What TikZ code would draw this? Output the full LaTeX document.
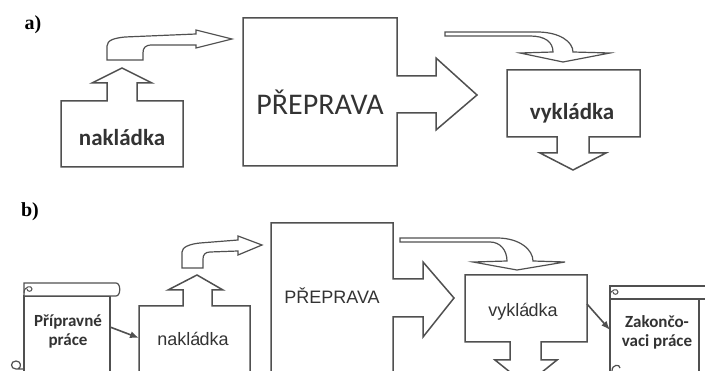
\documentclass[tikz,border=0pt]{standalone}
\usepackage{fontspec}
\setmainfont{Liberation Serif}
\newfontfamily\carlito{Carlito}
\newfontfamily\libsans{Liberation Sans}
\usetikzlibrary{arrows.meta}
\definecolor{ln}{HTML}{505050}
\definecolor{tx}{HTML}{333333}
\tikzset{
  shp/.style={draw=ln, line width=1.5pt, line join=miter, fill=white},
  thin shp/.style={draw=ln, line width=1.2pt, fill=white},
  conn/.style={draw=ln, line width=1.6pt, -{Latex[length=9pt,width=7pt]}},
  lbl/.style={text=black, font=\bfseries\fontsize{20}{20}\selectfont},
  bigA/.style={text=tx, font=\carlito\fontsize{30}{30}\selectfont},
  boxA/.style={text=tx, font=\carlito\bfseries\fontsize{23}{23}\selectfont},
  boxB/.style={text=tx, font=\libsans\fontsize{18}{18}\selectfont},
  scrl/.style={text=tx, font=\carlito\bfseries\fontsize{17}{19}\selectfont, align=center}
}
\begin{document}
\begin{tikzpicture}[x=1pt,y=-1pt]
\useasboundingbox (0,0) rectangle (705,371);
\fill[white] (0,0) rectangle (705,371);
\clip (0,0) rectangle (705,371);

% ---------- a) ----------
\node[lbl] (la) at (33,25) {a)};

% nakladka a
\path[shp] (61,167) -- (61,101) -- (107,101) -- (107,83) -- (92,83) -- (122,68) -- (152,83) -- (137,83) -- (137,101) -- (183,101) -- (183,167) -- cycle;
\node[boxA] (nakA) at (122,138) {nakládka};
% bent arrow a
\path[thin shp] (107,60) -- (107,46) .. controls (107,40) and (115,38) .. (125,37) -- (196,34) -- (196,30) -- (232,39) -- (196,48) -- (196,45) -- (152,45) .. controls (145,45) and (143,48) .. (143,53) -- (143,60) -- cycle;

% preprava a
\path[shp] (243,18) -- (397,18) -- (397,76) -- (436,76) -- (436,58) -- (477,95) -- (436,130) -- (436,113) -- (397,113) -- (397,166) -- (243,166) -- cycle;
\node[bigA] (prA) at (320,102) {PŘEPRAVA};

% curved arrow a
\path[thin shp] (445,32) -- (537,32) .. controls (560,32) and (573,42) .. (573,52) -- (610,53) -- (563,62) -- (520,53) -- (553,52) .. controls (553,42) and (545,36) .. (530,36) -- (445,36) -- cycle;

% vykladka a
\path[shp] (507,70) -- (640,70) -- (640,137) -- (589,137) -- (589,153) -- (606,153) -- (573,170) -- (540,153) -- (557,153) -- (557,137) -- (507,137) -- cycle;
\node[boxA] (vykA) at (572,113) {vykládka};

% ---------- b) ----------
\node[lbl] (lb) at (30,212) {b)};

% scroll left
\path[thin shp] (24,296) -- (24,380) -- (110,380) -- (110,296) -- cycle;
\path[thin shp] (24,283) -- (116,283) .. controls (121,283) and (121,296) .. (116,296) -- (24,296) -- cycle;
\draw[ln, line width=1pt] (24,293) .. controls (24,286) and (32,285) .. (32,289) .. controls (32,292) and (27,292) .. (27,289);
\draw[ln, line width=1.2pt] (24,369) -- (16,369) .. controls (10,369) and (10,361) .. (16,361) .. controls (21,361) and (22,367) .. (18,369);
\node[scrl] (prip) at (68,331) {Přípravné\\práce};

% nakladka b
\path[shp] (139,380) -- (139,306) -- (183,306) -- (183,290) -- (168,290) -- (197,275) -- (223,290) -- (212,290) -- (212,306) -- (250,306) -- (250,380) -- cycle;
\node[boxB] (nakB) at (193,339) {naklá\kern-1pt dka};
% bent arrow b
\path[thin shp] (182,268) -- (182,252) .. controls (182,247) and (190,244) .. (200,243) -- (238,240) -- (238,236) -- (262,245) -- (238,255) -- (238,251) -- (210,252) .. controls (205,252) and (203,255) .. (203,259) -- (203,268) -- cycle;

% preprava b
\path[shp] (271,380) -- (271,223) -- (393,223) -- (393,279) -- (423,279) -- (423,262) -- (454,298) -- (423,337) -- (423,317) -- (393,317) -- (393,380) -- cycle;
\node[boxB] (prB) at (332,296) {PŘEPRAVA};

% curved arrow b
\path[thin shp] (400,238) -- (497,238) .. controls (520,238) and (533,250) .. (533,261) -- (565,262) -- (517,270) -- (473,262) -- (507,261) .. controls (507,250) and (500,242) .. (490,242) -- (400,242) -- cycle;

% vykladka b
\path[shp] (465,275) -- (587,275) -- (587,342) -- (541,342) -- (541,360) -- (557,360) -- (526,385) -- (495,360) -- (510,360) -- (510,342) -- (465,342) -- cycle;
\node[boxB] (vykB) at (523,312) {vyklá\kern-1pt dka};

% scroll right
\path[thin shp] (610,299) -- (610,380) -- (699,380) -- (699,299) -- cycle;
\path[thin shp] (610,286) -- (712,286) -- (712,299) -- (610,299) -- cycle;
\draw[ln, line width=1pt] (610,296) .. controls (610,289) and (618,288) .. (618,292) .. controls (618,295) and (613,295) .. (613,292);
\draw[ln, line width=1.2pt] (612,371) .. controls (612,364) and (620,364) .. (620,368);
\node[scrl] (zak) at (657,332) {Zakončo-\\vaci práce};

% connectors
\coordinate (c1) at (110,327);
\coordinate (c2) at (139,338);
\draw[conn] (c1) -- (c2);
\coordinate (c3) at (587,304);
\coordinate (c4) at (610,330);
\draw[conn] (c3) -- (c4);
\end{tikzpicture}
\end{document}
